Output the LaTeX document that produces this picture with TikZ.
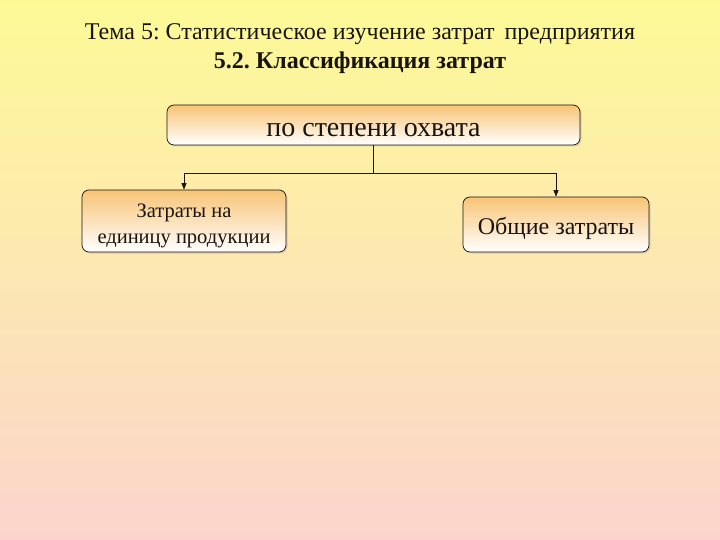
\documentclass[tikz,border=0pt]{standalone}
\usepackage{fontspec}
\setmainfont{Liberation Serif}
\usetikzlibrary{arrows.meta,shadows}
\definecolor{bg-top}{RGB}{253,250,150}
\definecolor{bg-bottom}{RGB}{252,212,205}
\definecolor{box-top}{RGB}{248,196,118}
\definecolor{fig-ink}{HTML}{1A1410}
\newcommand{\lowertext}[2]{\raisebox{#1}[\height][\depth]{\begin{tabular}{@{}c@{}}#2\end{tabular}}}
\frenchspacing

\begin{document}
\begin{tikzpicture}[
    x=1pt, y=-1pt,
    >={Triangle[length=6.5pt,width=5pt]},
    box/.style={draw=fig-ink, line width=0.7pt, rounded corners=7pt, top color=box-top, bottom color=white,
        drop shadow={opacity=0.25, shadow xshift=1.5pt, shadow yshift=-1.5pt}, align=center, text=fig-ink, inner sep=2pt},
    title/.style={text=fig-ink, font=\fontsize{24}{28}\selectfont},
    flow/.style={->, draw=fig-ink, line width=0.7pt},
]
\shade[top color=bg-top, bottom color=bg-bottom] (0,0) rectangle (720,540);
\useasboundingbox (0,0) rectangle (720,540);

\node[title] (theme) at (360,34) {Тема 5: Статистическое изучение затрат\, предприятия};
\node[title, font=\fontsize{24}{28}\selectfont\bfseries] (sub) at (360,63) {5.2. Классификация затрат};

\node[box, minimum width=413pt, minimum height=40pt, font=\fontsize{28}{32}\selectfont] (scope) at (373.5,125)
    {\lowertext{-5pt}{по степени охвата}};
\node[box, minimum width=204pt, minimum height=62pt, font=\fontsize{20.5}{26}\selectfont] (unit) at (184,221)
    {\lowertext{-4pt}{Затраты на\\единицу продукции}};
\node[box, minimum width=186pt, minimum height=55pt, font=\fontsize{24}{28}\selectfont] (total) at (556,224.5)
    {\lowertext{-4pt}{Общие затраты}};

\coordinate (split) at (scope.south |- 0,173);
\draw[line width=0.7pt, draw=fig-ink] (scope.south) -- (split);
\draw[flow] (split) -| (unit.north);
\draw[flow] (split) -| (total.north);
\end{tikzpicture}
\end{document}
